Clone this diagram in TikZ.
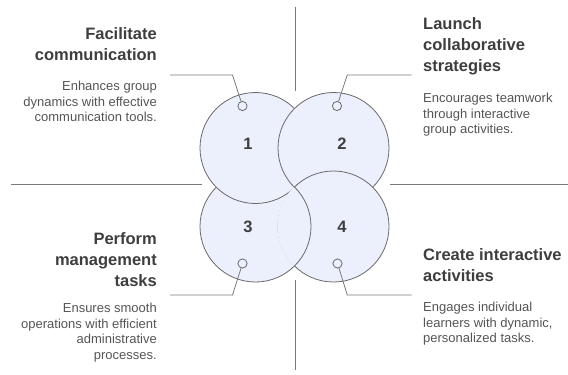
\documentclass[tikz,border=0pt]{standalone}
\usepackage{fontspec}
\setmainfont{Liberation Sans}
\definecolor{cfill}{HTML}{EBF0FC}
\definecolor{cline}{HTML}{6A6A6A}
\definecolor{gline}{HTML}{7A7A7A}
\definecolor{ttl}{HTML}{3E3E3E}
\definecolor{dsc}{HTML}{555555}
\begin{document}
\begin{tikzpicture}[x=1pt,y=-1pt,
  big/.style={fill=cfill,draw=cline,line width=0.8pt},
  dot/.style={circle,draw=cline,fill=cfill,line width=0.8pt,minimum size=9.2pt,inner sep=0pt},
  num/.style={font=\bfseries\fontsize{16.5}{16.5}\selectfont,text=ttl,inner sep=0pt},
  lead/.style={draw=gline,line width=0.8pt},
  divider/.style={draw=gline,line width=0.9pt},
  ttlR/.style={align=right,inner sep=0pt,anchor=north east,text=ttl,font=\bfseries\fontsize{16.5}{21}\selectfont},
  ttlL/.style={align=left,inner sep=0pt,anchor=north west,text=ttl,font=\bfseries\fontsize{16.5}{21}\selectfont},
  dscR/.style={align=right,inner sep=0pt,anchor=north east,text=dsc,font=\fontsize{13}{15.5}\selectfont},
  dscL/.style={align=left,inner sep=0pt,anchor=north west,text=dsc,font=\fontsize{13}{15.5}\selectfont}]
\useasboundingbox (0,0) rectangle (568,375);
\fill[white] (0,0) rectangle (568,375);
% dividers
\draw[divider] (295.3,6.7) -- (295.3,90.7);
\draw[divider] (295.3,280) -- (295.3,370);
\draw[divider] (11,184.5) -- (201.5,184.5);
\draw[divider] (390,184.5) -- (568,184.5);
% circles (pinwheel overlap)
\path[big] (255.5,226.5) circle (55.5);
\path[big] (255.5,148) circle (55.5);
\path[big] (333.5,148) circle (55.5);
\path[big] (333.5,226.5) circle (55.5);
\begin{scope}
  \clip (333.5,226.5) circle (56.2);
  \path[big] (255.5,226.5) circle (55.5);
\end{scope}
% markers and leaders
\node[dot] (s1) at (242.5,106) {};
\node[dot] (s2) at (337,106) {};
\node[dot] (s3) at (242.5,263.5) {};
\node[dot] (s4) at (337.5,263.5) {};
\coordinate (k1) at (232.5,75);
\coordinate (e1) at (170,75);
\coordinate (k2) at (347.3,75);
\coordinate (e2) at (411.5,75);
\coordinate (k3) at (232.5,295);
\coordinate (e3) at (170,295);
\coordinate (k4) at (347.3,295);
\coordinate (e4) at (411.5,295);
\draw[lead] (s1) -- (k1) -- (e1);
\draw[lead] (s2) -- (k2) -- (e2);
\draw[lead] (s3) -- (k3) -- (e3);
\draw[lead] (s4) -- (k4) -- (e4);
% numbers
\node[num] (n1) at (248,144) {1};
\node[num] (n2) at (342,144) {2};
\node[num] (n3) at (248,227) {3};
\node[num] (n4) at (342,227) {4};
% texts
\node[ttlR] (t1) at (157,27) {Facilitate\\communication};
\node[dscR] (d1) at (157,81) {Enhances group\\dynamics with effective\\communication tools.};
\node[ttlL] (t2) at (423,17) {Launch\\collaborative\\strategies};
\node[dscL] (d2) at (423,93) {Encourages teamwork\\through interactive\\group activities.};
\node[ttlR] (t3) at (157,232) {Perform\\management\\tasks};
\node[dscR] (d3) at (157,303) {Ensures smooth\\operations with efficient\\administrative\\processes.};
\node[ttlL] (t4) at (423,248) {Create interactive\\activities};
\node[dscL] (d4) at (423,302) {Engages individual\\learners with dynamic,\\personalized tasks.};
\end{tikzpicture}
\end{document}
